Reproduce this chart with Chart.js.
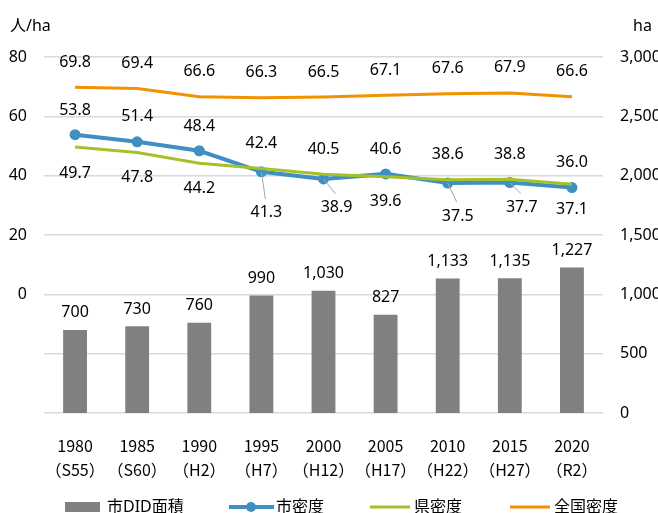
<!DOCTYPE html>
<html>
<head>
<meta charset="utf-8">
<script src="https://cdn.jsdelivr.net/npm/chart.js@4.4.0/dist/chart.umd.min.js"></script>
<style>
  html, body { margin: 0; padding: 0; overflow: hidden; background: #fff; }
  #wrap { width: 672px; height: 513px; }
</style>
</head>
<body>
<div id="wrap"><canvas id="didChart"></canvas></div>
<script>
// DID面積と人口密度の推移
const years = [
  ['1980', '（S55）'], ['1985', '（S60）'], ['1990', '（H2）'],
  ['1995', '（H7）'], ['2000', '（H12）'], ['2005', '（H17）'],
  ['2010', '（H22）'], ['2015', '（H27）'], ['2020', '（R2）']
];
const didArea = [700, 730, 760, 990, 1030, 827, 1133, 1135, 1227];
const cityDensity = [53.8, 51.4, 48.4, 41.3, 38.9, 40.6, 37.5, 37.7, 36.0];
const prefDensity = [49.7, 47.8, 44.2, 42.4, 40.5, 39.6, 38.6, 38.8, 37.1];
const nationalDensity = [69.8, 69.4, 66.6, 66.3, 66.5, 67.1, 67.6, 67.9, 66.6];

const FONT = "'Noto Sans', 'Noto Sans CJK JP', sans-serif";
const GRAY = '#808080';
const BLUE = '#3F8FC2';
const GREEN = '#A5C12A';
const ORANGE = '#F39200';

// ラベル位置 [dx, dy, 引出線]
const labelPos = [
  null, // bars: above top
  [[0, -24], [0, -25], [0, -24], [5, 41, true], [13, 29, true], [0, -24], [10, 33, true], [12, 25, true], [0, -25]],
  [[0, 27], [0, 25], [0, 25], [0, -25], [0, -25], [0, 25], [0, -25], [0, -25], [0, 25]],
  null // national: all above
];

const dataLabels = {
  id: 'dataLabels',
  afterDatasetsDraw(chart) {
    const ctx = chart.ctx;
    ctx.save();
    ctx.font = '16px ' + FONT;
    ctx.fillStyle = '#000';
    ctx.textAlign = 'center';
    ctx.textBaseline = 'middle';
    chart.data.datasets.forEach((ds, i) => {
      const meta = chart.getDatasetMeta(i);
      meta.data.forEach((el, j) => {
        const v = ds.data[j];
        let dx = 0, dy = -25, lead = false;
        if (i === 0) dy = -17;
        else if (labelPos[i]) [dx, dy, lead] = labelPos[i][j];
        const lx = el.x + dx, ly = el.y + dy;
        if (lead) {
          ctx.strokeStyle = '#A6A6A6';
          ctx.lineWidth = 1;
          ctx.beginPath();
          ctx.moveTo(el.x, el.y);
          ctx.lineTo(lx - 1, ly - 14);
          ctx.stroke();
        }
        const txt = i === 0 ? v.toLocaleString('en-US') : v.toFixed(1);
        ctx.fillText(txt, lx, ly);
      });
    });
    ctx.restore();
  }
};

const extras = {
  id: 'extras',
  afterDraw(chart) {
    const ctx = chart.ctx;
    ctx.save();
    ctx.font = '16px ' + FONT;
    ctx.fillStyle = '#000';
    ctx.textBaseline = 'middle';
    ctx.textAlign = 'left';
    ctx.fillText('人/ha', 10, 26);
    ctx.fillText('ha', 633, 26);

    // legend
    const y = 507;
    ctx.fillStyle = GRAY;
    ctx.fillRect(65, 502, 35, 10);
    ctx.lineWidth = 4;
    ctx.strokeStyle = BLUE;
    ctx.beginPath(); ctx.moveTo(229, y); ctx.lineTo(274, y); ctx.stroke();
    ctx.fillStyle = BLUE;
    ctx.beginPath(); ctx.arc(251, y, 5, 0, Math.PI * 2); ctx.fill();
    ctx.lineWidth = 3;
    ctx.strokeStyle = GREEN;
    ctx.beginPath(); ctx.moveTo(370, y); ctx.lineTo(410, y); ctx.stroke();
    ctx.strokeStyle = ORANGE;
    ctx.beginPath(); ctx.moveTo(510, y); ctx.lineTo(550, y); ctx.stroke();
    ctx.fillStyle = '#000';
    ctx.fillText('市DID面積', 107, y);
    ctx.fillText('市密度', 276, y);
    ctx.fillText('県密度', 414, y);
    ctx.fillText('全国密度', 554, y);
    ctx.restore();
  }
};

const ctxEl = document.getElementById('didChart');
new Chart(ctxEl, {
  data: {
    labels: years,
    datasets: [
      {
        type: 'bar', label: '市DID面積', data: didArea, yAxisID: 'yArea',
        backgroundColor: GRAY, barPercentage: 0.48, categoryPercentage: 0.8, order: 4
      },
      {
        type: 'line', label: '市密度', data: cityDensity, yAxisID: 'yDens',
        borderColor: BLUE, backgroundColor: BLUE, borderWidth: 4,
        pointRadius: 5.5, pointHoverRadius: 5.5, pointBorderWidth: 0, tension: 0, order: 3
      },
      {
        type: 'line', label: '県密度', data: prefDensity, yAxisID: 'yDens',
        borderColor: GREEN, borderWidth: 3, pointRadius: 0, tension: 0, order: 2
      },
      {
        type: 'line', label: '全国密度', data: nationalDensity, yAxisID: 'yDens',
        borderColor: ORANGE, borderWidth: 3, pointRadius: 0, tension: 0, order: 1
      }
    ]
  },
  options: {
    responsive: true,
    maintainAspectRatio: false,
    animation: false,
    layout: { padding: { top: 57, bottom: 0, left: 0, right: 0 } },
    plugins: {
      legend: { display: false },
      tooltip: { enabled: false }
    },
    scales: {
      x: {
        offset: true,
        grid: { display: false },
        border: { display: false },
        ticks: {
          color: '#000', autoSkip: false, maxRotation: 0, padding: 13,
          font: { family: "'Noto Sans CJK JP', 'Noto Sans', sans-serif", size: 16, lineHeight: 1.5 }
        },
        afterFit(s) { s.height = 100; }
      },
      yDens: {
        position: 'left',
        min: -40, max: 80,
        grid: { color: '#D9D9D9', lineWidth: 1.5, drawTicks: false },
        border: { display: false },
        ticks: {
          stepSize: 20, padding: 17, color: '#000',
          font: { family: FONT, size: 16 },
          callback: v => (v < 0 ? '' : v)
        },
        afterFit(s) { s.width = 44; }
      },
      yArea: {
        position: 'right',
        min: 0, max: 3000,
        grid: { display: false, drawTicks: false },
        border: { display: false },
        ticks: {
          stepSize: 500, padding: 17, color: '#000',
          font: { family: FONT, size: 16 },
          callback: v => v.toLocaleString('en-US')
        },
        afterFit(s) { s.width = 69; }
      }
    }
  },
  plugins: [dataLabels, extras]
});
</script>
</body>
</html>
